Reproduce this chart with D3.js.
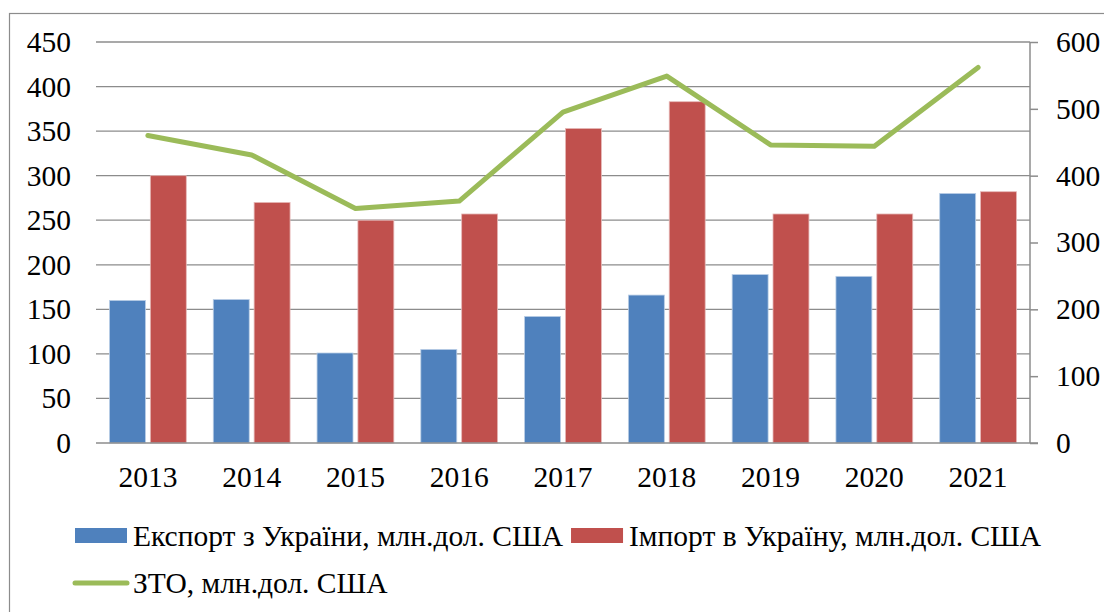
<!DOCTYPE html>
<html>
<head>
<meta charset="utf-8">
<script src="https://cdn.jsdelivr.net/npm/d3@7"></script>
<style>
  body { margin: 0; background: #fff; }
  svg text { font-family: "Liberation Serif", "Times New Roman", Times, serif; fill: #000; }
</style>
</head>
<body>
<div id="chart"></div>
<script>
/* chart data */
const years = ['2013', '2014', '2015', '2016', '2017', '2018', '2019', '2020', '2021'];
const exportVals = [160, 161, 101, 105, 142, 166, 189, 187, 280];
const importVals = [300, 270, 250, 257, 353, 383, 257, 257, 282];
const ztoVals = [460, 431, 351, 362, 495, 549, 446, 444, 562];
const leftTicks = [0, 50, 100, 150, 200, 250, 300, 350, 400, 450];
const rightTicks = [0, 100, 200, 300, 400, 500, 600];
const seriesNames = ['Експорт з України, млн.дол. США', 'Імпорт в Україну, млн.дол. США', 'ЗТО, млн.дол. США'];

const colBlue = '#4f81bd';
const colRed = '#c0504d';
const colGreen = '#9bbb59';
const serif = '"Liberation Serif", "Times New Roman", Times, serif';
const fontSize = '29.5px';

const W = 1104;
const H = 612;
const plot = { left: 96, right: 1030, top: 42, bottom: 443 };

const svg = d3.select('#chart')
  .append('svg')
  .attr('width', W)
  .attr('height', H)
  .attr('font-family', serif);

/* outer frame */
svg.append('rect')
  .attr('x', 9.5)
  .attr('y', 13.5)
  .attr('width', 1200)
  .attr('height', 700)
  .attr('fill', 'none')
  .attr('stroke', '#8c8c8c')
  .attr('stroke-width', 1.2);

/* scales */
const x = d3.scaleBand()
  .domain(years)
  .range([plot.left, plot.right])
  .paddingInner(0.26)
  .paddingOuter(0.13);
const x1 = d3.scaleBand()
  .domain(['exp', 'imp'])
  .range([0, x.bandwidth()])
  .paddingInner(0.12);
const yL = d3.scaleLinear().domain([0, 450]).range([plot.bottom, plot.top]);
const yR = d3.scaleLinear().domain([0, 600]).range([plot.bottom, plot.top]);

/* gridlines */
svg.append('g')
  .selectAll('line')
  .data(leftTicks.filter(function (d) { return d > 0; }))
  .enter()
  .append('line')
  .attr('x1', plot.left)
  .attr('x2', plot.right)
  .attr('y1', function (d) { return yL(d); })
  .attr('y2', function (d) { return yL(d); })
  .attr('stroke', '#8c8c8c')
  .attr('stroke-width', 1.3);

/* left axis labels */
const leftAxis = svg.append('g')
  .attr('transform', 'translate(' + plot.left + ',0)')
  .call(d3.axisLeft(yL).tickValues(leftTicks).tickSize(0).tickPadding(25));
leftAxis.attr('font-family', serif).attr('font-size', fontSize);
leftAxis.select('.domain').remove();

/* bars */
const groups = svg.append('g')
  .selectAll('g')
  .data(years)
  .enter()
  .append('g')
  .attr('transform', function (d) { return 'translate(' + x(d) + ',0)'; });

groups.append('rect')
  .attr('x', x1('exp'))
  .attr('y', function (d, i) { return yL(exportVals[i]); })
  .attr('width', x1.bandwidth())
  .attr('height', function (d, i) { return plot.bottom - yL(exportVals[i]); })
  .attr('fill', colBlue)
  .attr('stroke', '#b9cde5')
  .attr('stroke-width', 0.8);

groups.append('rect')
  .attr('x', x1('imp'))
  .attr('y', function (d, i) { return yL(importVals[i]); })
  .attr('width', x1.bandwidth())
  .attr('height', function (d, i) { return plot.bottom - yL(importVals[i]); })
  .attr('fill', colRed)
  .attr('stroke', '#e6b9b8')
  .attr('stroke-width', 0.8);

/* bottom axis */
svg.append('line')
  .attr('x1', plot.left)
  .attr('x2', plot.right + 8)
  .attr('y1', plot.bottom)
  .attr('y2', plot.bottom)
  .attr('stroke', '#8c8c8c')
  .attr('stroke-width', 1.5);

const bottomAxis = svg.append('g')
  .attr('transform', 'translate(0,' + plot.bottom + ')')
  .call(d3.axisBottom(x).tickSize(0).tickPadding(23));
bottomAxis.attr('font-family', serif).attr('font-size', fontSize);
bottomAxis.select('.domain').remove();

/* right axis */
const rightAxis = svg.append('g')
  .attr('transform', 'translate(' + plot.right + ',0)')
  .call(d3.axisRight(yR).tickValues(rightTicks).tickSize(8).tickPadding(18));
rightAxis.attr('font-family', serif).attr('font-size', fontSize);
rightAxis.select('.domain')
  .attr('d', 'M0,' + plot.top + 'V' + plot.bottom)
  .attr('stroke', '#8c8c8c')
  .attr('stroke-width', 1.5);
rightAxis.selectAll('.tick line')
  .attr('stroke', '#8c8c8c')
  .attr('stroke-width', 1.5);

/* ZTO line */
const line = d3.line()
  .x(function (d, i) { return x(years[i]) + x.bandwidth() / 2; })
  .y(function (d) { return yR(d); });
svg.append('path')
  .datum(ztoVals)
  .attr('d', line)
  .attr('fill', 'none')
  .attr('stroke', colGreen)
  .attr('stroke-width', 5)
  .attr('stroke-linecap', 'round')
  .attr('stroke-linejoin', 'round');

/* legend */
const legend = svg.append('g').attr('font-size', fontSize);
legend.append('rect').attr('x', 75).attr('y', 528).attr('width', 52).attr('height', 15).attr('fill', colBlue);
const t1 = legend.append('text').attr('x', 133).attr('y', 546).text(seriesNames[0]);
const t1End = 133 + t1.node().getComputedTextLength();
legend.append('rect').attr('x', t1End + 8).attr('y', 528).attr('width', 52).attr('height', 15).attr('fill', colRed);
legend.append('text').attr('x', t1End + 66).attr('y', 546).text(seriesNames[1]);
legend.append('line').attr('x1', 75).attr('x2', 127).attr('y1', 583).attr('y2', 583)
  .attr('stroke', colGreen).attr('stroke-width', 5).attr('stroke-linecap', 'round');
legend.append('text').attr('x', 133).attr('y', 593).text(seriesNames[2]);
</script>
</body>
</html>
